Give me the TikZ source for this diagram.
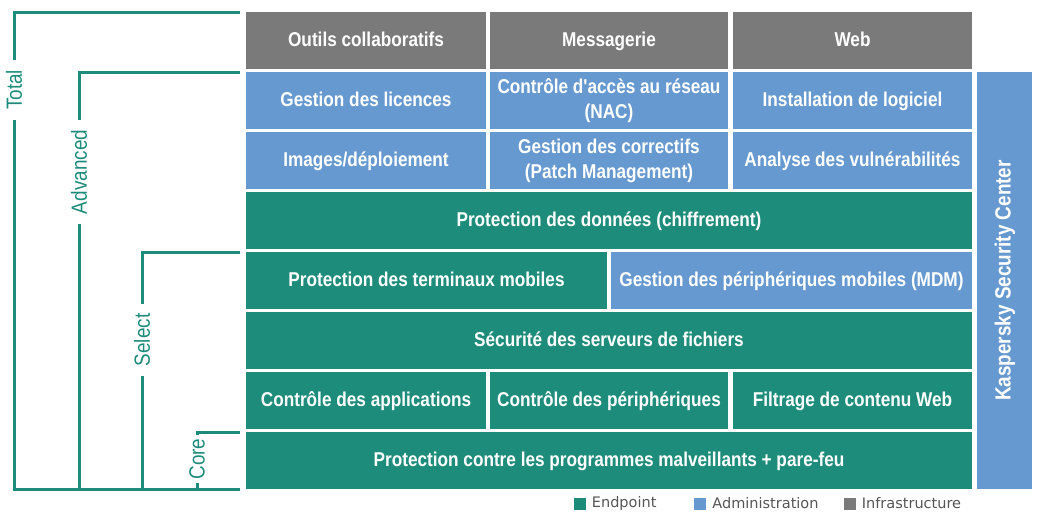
\documentclass[tikz,border=0pt]{standalone}
\usepackage{fontspec}
\setmainfont{Liberation Sans}
\newfontfamily\cellfont{Liberation Sans}[FakeStretch=0.86]
\newfontfamily\legendfont{DejaVu Sans}
\usetikzlibrary{positioning}
\definecolor{KspTeal}{HTML}{1E8C7A}
\definecolor{KspBlue}{HTML}{6699CF}
\definecolor{KspGray}{HTML}{7A7A7A}
\definecolor{KspInk}{HTML}{555555}
\tikzset{
  cell/.style={inner sep=0pt, outer sep=0pt, minimum height=57pt, align=center, text=white,
    text height=14.4pt, text depth=2pt,
    font=\cellfont\bfseries\fontsize{20}{25}\selectfont},
  twoline/.style={text height={}, text depth={}},
  endcell/.style={cell, fill=KspTeal},
  admincell/.style={cell, fill=KspBlue},
  infracell/.style={cell, fill=KspGray},
  tierline/.style={draw=KspTeal, line width=3pt},
  tierlabel/.style={rotate=90, text=KspTeal, inner xsep=10pt, inner ysep=0pt,
    font=\cellfont\fontsize{22}{24}\selectfont},
  legendkey/.style={fill=#1, minimum size=12pt, inner sep=0pt},
  legendtext/.style={font=\legendfont\fontsize{14.5}{16}\selectfont, text=KspInk, inner sep=0pt}
}
\begin{document}
\begin{tikzpicture}[x=1pt, y=-1pt]
\useasboundingbox (0,0) rectangle (1039,517);
% infrastructure
\node[infracell, minimum width=240pt] (outils) at (366,40.5) {Outils collaboratifs};
\node[infracell, minimum width=238pt] (mess) at (609,40.5) {Messagerie};
\node[infracell, minimum width=239pt] (web) at (852.5,40.5) {Web};
% administration
\node[admincell, minimum width=240pt] (licences) at (366,100.5) {Gestion des licences};
\node[admincell, twoline, minimum width=238pt] (nac) at (609,100.5) {Contrôle d'accès au réseau\\(NAC)};
\node[admincell, minimum width=239pt] (install) at (852.5,100.5) {Installation de logiciel};
\node[admincell, minimum width=240pt] (images) at (366,160.5) {Images/déploiement};
\node[admincell, twoline, minimum width=238pt] (patch) at (609,160.5) {Gestion des correctifs\\(Patch Management)};
\node[admincell, minimum width=239pt] (vuln) at (852.5,160.5) {Analyse des vulnérabilités};
% endpoint
\node[endcell, minimum width=726pt] (donnees) at (609,220.5) {Protection des données (chiffrement)};
\node[endcell, minimum width=361pt] (mobiles) at (426.5,280.5) {Protection des terminaux mobiles};
\node[admincell, minimum width=361pt] (mdm) at (791.5,280.5) {Gestion des périphériques mobiles (MDM)};
\node[endcell, minimum width=726pt] (fichiers) at (609,340.5) {Sécurité des serveurs de fichiers};
\node[endcell, minimum width=240pt] (apps) at (366,400.5) {Contrôle des applications};
\node[endcell, minimum width=238pt] (periph) at (609,400.5) {Contrôle des périphériques};
\node[endcell, minimum width=239pt] (filtre) at (852.5,400.5) {Filtrage de contenu Web};
\node[endcell, minimum width=726pt] (malware) at (609,460.5) {Protection contre les programmes malveillants + pare-feu};
\node[admincell, rotate=90, minimum width=417pt, minimum height=55pt, font=\cellfont\bfseries\fontsize{22}{24}\selectfont] (ksc) at (1004.5,280.5) {Kaspersky Security Center};
% tiers
\node[tierlabel] (total) at (14,90) {Total};
\node[tierlabel] (advanced) at (79,172) {Advanced};
\node[tierlabel] (select) at (142,340) {Select};
\node[tierlabel, inner xsep=3pt] (core) at (197,459) {Core};
\draw[tierline] (total.east) |- ([xshift=-6pt]outils.north west);
\draw[tierline] (total.west) |- ([xshift=-6pt]malware.south west);
\draw[tierline] (advanced.east) |- ([xshift=-6pt]licences.north west);
\draw[tierline] (advanced.west) -- (advanced.west |- malware.south west);
\draw[tierline] (select.east) |- ([xshift=-6pt]mobiles.north west);
\draw[tierline] (select.west) -- (select.west |- malware.south west);
\draw[tierline] (core.east) |- ([xshift=-6pt]malware.north west);
\draw[tierline] (core.west) -- (core.west |- malware.south west);
% legend
\node[legendkey=KspTeal] (kend) at (579.5,503.5) {};
\node[legendtext, right=6pt of kend] (lend) {Endpoint};
\node[legendkey=KspBlue] (kadm) at (700,503.5) {};
\node[legendtext, right=6pt of kadm] (ladm) {Administration};
\node[legendkey=KspGray] (kinf) at (849.5,503.5) {};
\node[legendtext, right=6pt of kinf] (linf) {Infrastructure};
\end{tikzpicture}
\end{document}
